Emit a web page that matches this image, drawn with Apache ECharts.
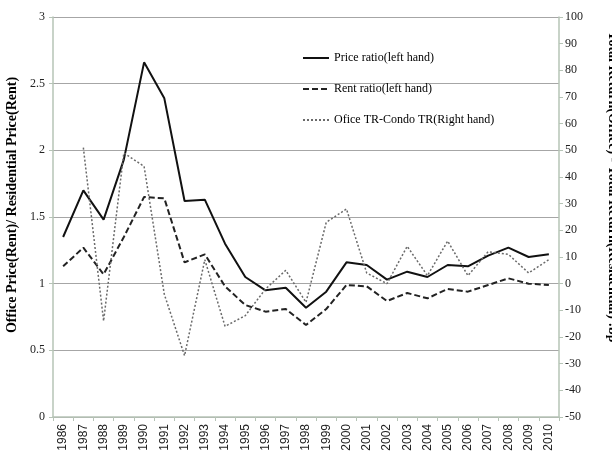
<!DOCTYPE html>
<html><head><meta charset="utf-8">
<script src="https://cdn.jsdelivr.net/npm/echarts@6/dist/echarts.min.js"></script>
<style>html,body{margin:0;padding:0;background:#fff}#c{width:612px;height:451px}</style>
</head><body><div id="c"></div>
<script>
const years = ['1986','1987','1988','1989','1990','1991','1992','1993','1994','1995','1996','1997','1998','1999','2000','2001','2002','2003','2004','2005','2006','2007','2008','2009','2010'];
const priceRatio = [1.35,1.70,1.48,1.93,2.66,2.39,1.62,1.63,1.30,1.05,0.95,0.97,0.82,0.94,1.16,1.14,1.03,1.09,1.05,1.14,1.13,1.21,1.27,1.20,1.22];
const rentRatio = [1.13,1.27,1.07,1.35,1.65,1.64,1.16,1.22,0.98,0.84,0.79,0.81,0.69,0.81,0.99,0.98,0.87,0.93,0.89,0.96,0.94,0.99,1.04,1.00,0.99];
const trDiff = [null,51,-14,49,44,-4,-27,9,-16,-12,-2,5,-7,23,28,4,0,14,3,16,3,12,11,4,9];
const leftTicks = {min:0,max:3,interval:0.5};
const rightTicks = {min:-50,max:100,interval:10};

const serif = '"Liberation Serif","Times New Roman",serif';
const sans = '"Liberation Sans",Arial,sans-serif';
const axisCol = '#b6c4b6';
const chart = echarts.init(document.getElementById('c'), null, {renderer:'canvas'});
chart.setOption({
  animation:false,
  backgroundColor:'#fff',
  grid:{left:53,right:53,top:17,bottom:34,containLabel:false,outerBoundsMode:'none'},
  legend:{
    orient:'vertical', left:297, top:47, itemGap:19, itemWidth:26, itemHeight:10,
    itemStyle:{opacity:0},
    textStyle:{fontFamily:serif,fontSize:12,color:'#000'},
    data:['Price ratio(left hand)','Rent ratio(left hand)','Ofice TR-Condo TR(Right hand)']
  },
  xAxis:{
    type:'category', data:years, boundaryGap:true,
    axisLine:{lineStyle:{color:axisCol,width:1.5}},
    axisTick:{show:true,length:4,lineStyle:{color:axisCol}},
    axisLabel:{rotate:90,interval:0,fontFamily:sans,fontSize:12,color:'#222',margin:7}
  },
  yAxis:[{
    type:'value', ...leftTicks,
    name:'Office Price(Rent)/ Residential Price(Rent)', nameLocation:'middle', nameGap:33,
    nameTextStyle:{fontFamily:serif,fontSize:14,fontWeight:'bold',color:'#000',padding:[0,0,0,24]},
    axisLine:{show:true,lineStyle:{color:axisCol,width:1.5}},
    axisTick:{show:true,length:4,lineStyle:{color:axisCol}},
    axisLabel:{fontFamily:serif,fontSize:12,color:'#222',margin:8},
    splitLine:{show:true,lineStyle:{color:'#a6a6a6',width:1.2}}
  },{
    type:'value', ...rightTicks, position:'right',
    name:'Total Return(Office) - Total Return(Residential) :bp', nameLocation:'middle', nameGap:47, nameRotate:-90,
    nameTextStyle:{fontFamily:serif,fontSize:14,fontWeight:'bold',color:'#000',padding:[0,60,0,0]},
    axisLine:{show:true,lineStyle:{color:axisCol,width:1.5}},
    axisTick:{show:true,length:4,lineStyle:{color:axisCol}},
    axisLabel:{fontFamily:serif,fontSize:12,color:'#222',margin:6},
    splitLine:{show:false}
  }],
  series:[
    {name:'Price ratio(left hand)',type:'line',yAxisIndex:0,data:priceRatio,symbol:'none',
     lineStyle:{color:'#111',width:2,type:'solid'},itemStyle:{color:'#111'}},
    {name:'Rent ratio(left hand)',type:'line',yAxisIndex:0,data:rentRatio,symbol:'none',
     lineStyle:{color:'#222',width:2,type:[6,3]},itemStyle:{color:'#222'}},
    {name:'Ofice TR-Condo TR(Right hand)',type:'line',yAxisIndex:1,data:trDiff,symbol:'none',connectNulls:false,
     lineStyle:{color:'#6a6a6a',width:1.5,type:[2,2]},itemStyle:{color:'#6a6a6a'}}
  ]
});
</script></body></html>
